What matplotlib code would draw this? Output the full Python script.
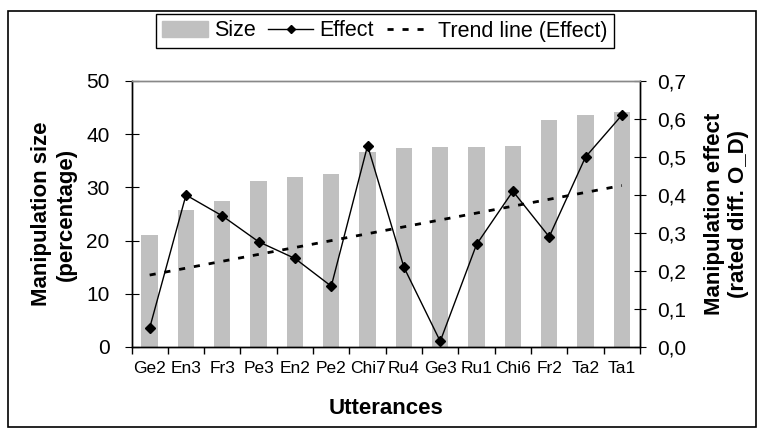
import numpy as np
import matplotlib.pyplot as plt
from matplotlib.patches import Rectangle
from matplotlib.lines import Line2D

plt.rcParams['font.family'] = ['Liberation Sans', 'DejaVu Sans']

# Data
utterances = ['Ge2', 'En3', 'Fr3', 'Pe3', 'En2', 'Pe2', 'Chi7', 'Ru4',
              'Ge3', 'Ru1', 'Chi6', 'Fr2', 'Ta2', 'Ta1']
size = [21.0, 25.8, 27.5, 31.2, 32.0, 32.6, 36.7, 37.4,
        37.6, 37.6, 37.8, 42.7, 43.6, 44.2]
effect = [0.05, 0.40, 0.345, 0.277, 0.233, 0.16, 0.53, 0.21,
          0.015, 0.27, 0.41, 0.29, 0.50, 0.61]

x = np.arange(len(utterances))

# linear trend of the effect values (as the spreadsheet does it)
slope, icpt = np.polyfit(x, effect, 1)
trend = slope * x + icpt

W, H = 760, 430
fig = plt.figure(figsize=(W / 100, H / 100), dpi=100)
ax = fig.add_axes([131.5 / W, 1 - 347 / H, (640 - 131.5) / W, (347 - 81) / H])
ax2 = ax.twinx()

ax.bar(x, size, width=0.45, color='#c0c0c0', zorder=1)
ax.set_xlim(-0.5, len(utterances) - 0.5)
ax.set_ylim(0, 50)
ax.set_yticks(range(0, 51, 10))
ax.set_xticks(x)
ax.set_xticklabels(utterances, fontsize=12.5)
ax.set_xticks(np.arange(-0.5, len(utterances), 1), minor=True)
ax.tick_params(axis='x', which='major', length=0, pad=10)
ax.tick_params(axis='x', which='minor', length=5, direction='out', width=1)
ax.tick_params(axis='y', direction='inout', length=9.5, labelsize=15, pad=11)

dash_trend = (0, (2.2, 3.2))
ax2.plot(x, trend, color='black', lw=2, ls=dash_trend, zorder=2)
ax2.plot(x, effect, color='black', lw=1, marker='D', ms=5, zorder=3)
ax2.set_ylim(0, 0.7)
ticks2 = np.arange(0, 0.71, 0.1)
ax2.set_yticks(ticks2)
ax2.set_yticklabels([f'{v:.1f}'.replace('.', ',') for v in ticks2])
ax2.tick_params(axis='y', direction='inout', length=9, labelsize=15, pad=8)

for a in (ax, ax2):
    a.spines['top'].set_color('#888888')
    for s in a.spines.values():
        s.set_linewidth(1)

ax.set_ylabel('Manipulation size\n(percentage)', fontsize=16, fontweight='bold')
ax.yaxis.set_label_coords(-0.108, 0.5)
ax2.set_ylabel('Manipulation effect\n(rated diff. O_D)', fontsize=16, fontweight='bold')
ax2.yaxis.set_label_coords(1.125, 0.5)
ax.set_xlabel('Utterances', fontsize=16, fontweight='bold')
ax.xaxis.set_label_coords(0.5, -0.19)

# legend
handles = [Rectangle((0, 0), 1, 1, color='#c0c0c0'),
           Line2D([], [], color='black', lw=1, marker='D', ms=4),
           Line2D([], [], color='black', lw=2, ls=dash_trend)]
fig.legend(handles, ['Size', 'Effect', 'Trend line (Effect)'], ncol=3,
           loc='center', bbox_to_anchor=(385 / W, 1 - 31 / H),
           frameon=True, fancybox=False, edgecolor='black', framealpha=1,
           fontsize=15.5, handlelength=2.1, handletextpad=0.28,
           columnspacing=0.6, borderpad=0.3)

# outer chart frame
fig.patches.append(Rectangle((8 / W, 3 / H), 748 / W, 1 - 14 / H,
                             transform=fig.transFigure, fill=False,
                             edgecolor='black', lw=1.2))

fig.savefig('out.png', dpi=100)
